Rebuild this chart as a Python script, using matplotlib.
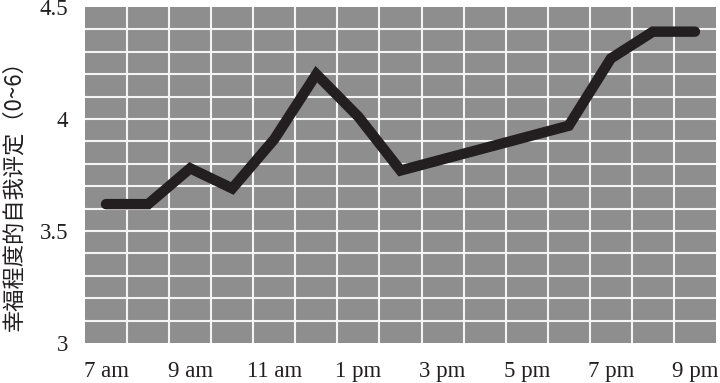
import matplotlib
matplotlib.use('Agg')
import matplotlib.pyplot as plt
import numpy as np

# hours of the day (24h) and self-rated happiness
hours = [7, 8, 9, 10, 11, 12, 13, 14, 18, 19, 20, 21]
happiness = [3.62, 3.62, 3.78, 3.69, 3.91, 4.20, 4.01, 3.77, 3.97, 4.27, 4.39, 4.39]

tick_hours = [7, 9, 11, 13, 15, 17, 19, 21]
tick_labels = ['7 am', '9 am', '11 am', '1 pm', '3 pm', '5 pm', '7 pm', '9 pm']
y_ticks = [3, 3.5, 4, 4.5]
y_labels = ['3', '3.5', '4', '4.5']

plt.rcParams['font.family'] = ['Liberation Serif', 'Noto Sans CJK SC']

fig = plt.figure(figsize=(7.2, 3.83), dpi=100)
ax = fig.add_axes([85 / 720, 40 / 383, 631 / 720, 336 / 383])

ax.set_facecolor('#8e8e8e')
ax.set_xlim(6.5, 21.5)
ax.set_ylim(3, 4.5)

# white grid: one cell per hour, one row per 0.1
for x in np.arange(7.5, 21.5, 1):
    ax.axvline(x, color='#f4f4f4', linewidth=1.5, zorder=1)
for y in np.arange(3.1, 4.45, 0.1):
    ax.axhline(y, color='#f4f4f4', linewidth=1.5, zorder=1)

ax.plot(hours, happiness, color='#231f20', linewidth=7.5,
        solid_joinstyle='miter', solid_capstyle='round', zorder=3)

ax.set_xticks(tick_hours)
ax.set_xticklabels(tick_labels, fontsize=16.5)
ax.set_yticks(y_ticks)
ax.set_yticklabels(y_labels, fontsize=16.5)
ax.tick_params(length=0, colors='#231f20')
ax.tick_params(axis='x', pad=13)
ax.tick_params(axis='y', pad=12)
for s in ax.spines.values():
    s.set_visible(False)

fig.text(14 / 720, 1 - 190 / 383, '幸福程度的自我评定（0~6）', fontsize=16,
         color='#231f20', rotation=90, ha='center', va='center',
         family=['Noto Sans CJK SC', 'Liberation Serif'])

fig.savefig('out.png', dpi=100)
